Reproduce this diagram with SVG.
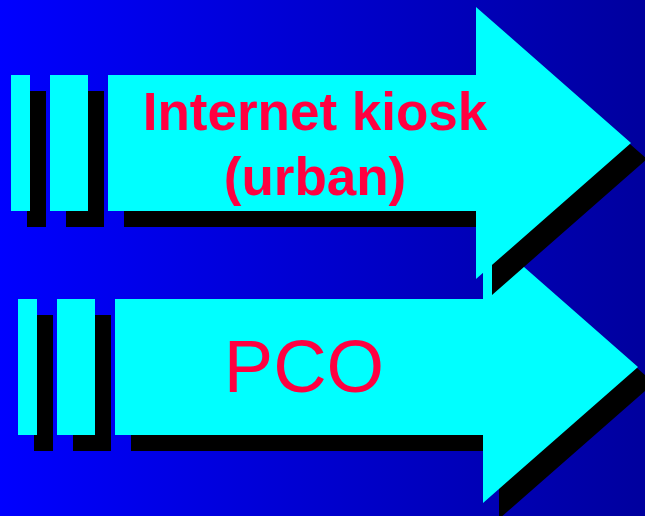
<svg xmlns="http://www.w3.org/2000/svg" xmlns:xlink="http://www.w3.org/1999/xlink" width="645" height="516" viewBox="0 0 645 516">
  <defs>
    <linearGradient id="bg" x1="0" y1="0" x2="1" y2="0">
      <stop offset="0" stop-color="#0000FF"/>
      <stop offset="1" stop-color="#00009E"/>
    </linearGradient>
    <!-- striped block arrow: two bars, then a shaft with a triangular head -->
    <g id="arrowShape">
      <rect x="11" y="75" width="19" height="136"/>
      <rect x="50" y="75" width="38" height="136"/>
      <polygon points="108,75 476,75 476,7 631,143 476,279 476,211 108,211"/>
    </g>
  </defs>
  <style>
    .shadow { fill: #000000; }
    .face { fill: #00FFFF; }
    .label { fill: #FF0040; font-family: "Liberation Sans", Arial, sans-serif; text-anchor: middle; }
    .bold { font-weight: bold; font-size: 53px; }
    .plain { font-size: 74px; }
  </style>

  <rect x="0" y="0" width="645" height="516" fill="url(#bg)"/>

  <!-- lower arrow -->
  <g id="pco">
    <g transform="translate(7,224)">
      <use xlink:href="#arrowShape" class="shadow" transform="translate(16,16)"/>
      <use xlink:href="#arrowShape" class="face"/>
    </g>
    <text class="label plain" x="304" y="392">PCO</text>
  </g>

  <!-- upper arrow -->
  <g id="internet-kiosk">
    <use xlink:href="#arrowShape" class="shadow" transform="translate(16,16)"/>
    <use xlink:href="#arrowShape" class="face"/>
    <text class="label bold" x="315" y="130">Internet kiosk</text>
    <text class="label bold" x="315" y="195">(urban)</text>
  </g>

  <g id="connectors"/>
</svg>
